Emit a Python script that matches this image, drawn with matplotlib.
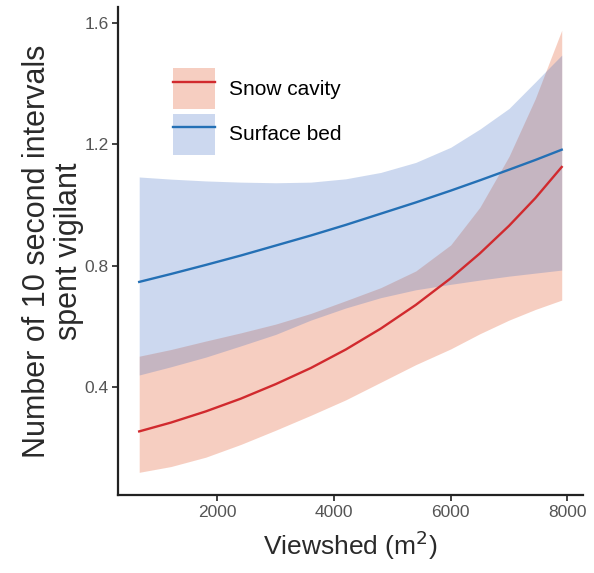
import numpy as np
import matplotlib
matplotlib.use("Agg")
import matplotlib.pyplot as plt
from matplotlib.patches import Patch
from matplotlib.lines import Line2D

plt.rcParams['font.family'] = ['Liberation Sans', 'DejaVu Sans']

viewshed = [657, 1200, 1800, 2400, 3000, 3600, 4200, 4800, 5400, 6000, 6500, 7000, 7450, 7904]

# snow cavity: fitted line and 95% band
snow_fit = [0.253, 0.282, 0.319, 0.361, 0.409, 0.462, 0.523, 0.592, 0.670, 0.758, 0.840, 0.931, 1.022, 1.125]
snow_lo = [0.118, 0.137, 0.168, 0.210, 0.257, 0.306, 0.357, 0.415, 0.473, 0.525, 0.575, 0.620, 0.655, 0.686]
snow_hi = [0.501, 0.523, 0.551, 0.578, 0.607, 0.642, 0.684, 0.727, 0.782, 0.868, 0.992, 1.160, 1.350, 1.576]

# surface bed: fitted line and 95% band
surf_fit = [0.746, 0.772, 0.802, 0.833, 0.866, 0.899, 0.934, 0.971, 1.008, 1.047, 1.081, 1.116, 1.148, 1.182]
surf_lo = [0.439, 0.466, 0.498, 0.535, 0.573, 0.620, 0.660, 0.694, 0.720, 0.738, 0.752, 0.765, 0.775, 0.785]
surf_hi = [1.092, 1.085, 1.079, 1.075, 1.073, 1.075, 1.086, 1.107, 1.140, 1.190, 1.250, 1.318, 1.405, 1.494]

labels = ['Snow cavity', 'Surface bed']

red_line, red_fill = '#d12a2e', '#e8744f'
blue_line, blue_fill = '#2470b5', '#4472c4'

fig = plt.figure(figsize=(5.94, 5.73), dpi=100)
ax = fig.add_axes([0.199, 0.136, 0.782, 0.852])

ax.fill_between(viewshed, snow_lo, snow_hi, color=red_fill, alpha=0.35, linewidth=0)
ax.fill_between(viewshed, surf_lo, surf_hi, color=blue_fill, alpha=0.27, linewidth=0)
ax.plot(viewshed, snow_fit, color=red_line, lw=1.7)
ax.plot(viewshed, surf_fit, color=blue_line, lw=1.7)

ax.set_xlim(297, 8264)
ax.set_ylim(0.043, 1.653)
ax.set_xticks([2000, 4000, 6000, 8000])
ax.set_yticks([0.4, 0.8, 1.2, 1.6])
ax.set_yticklabels(['0.4', '0.8', '1.2', '1.6'])

for s in ['top', 'right']:
    ax.spines[s].set_visible(False)
for s in ['left', 'bottom']:
    ax.spines[s].set_linewidth(1.6)
    ax.spines[s].set_color('#222222')
ax.tick_params(length=4, width=1.3, color='#333333', labelcolor='#555555', labelsize=12.5, pad=3)

ax.set_xlabel('Viewshed (m$^2$)', fontsize=19, color='#2a2a2a', labelpad=6)
ax.set_ylabel('Number of 10 second intervals\nspent vigilant', fontsize=22,
              color='#2a2a2a', labelpad=0.5, linespacing=1.05)

handles = [
    (Patch(facecolor=red_fill, alpha=0.35, linewidth=0), Line2D([], [], color=red_line, lw=1.7)),
    (Patch(facecolor=blue_fill, alpha=0.27, linewidth=0), Line2D([], [], color=blue_line, lw=1.7)),
]
ax.legend(handles, labels, loc='upper left', bbox_to_anchor=(0.118, 0.874),
          frameon=False, fontsize=15, handlelength=2.0, handleheight=2.65,
          labelspacing=0.2, handletextpad=0.7, borderpad=0, borderaxespad=0)

fig.savefig('out.png', dpi=100)
